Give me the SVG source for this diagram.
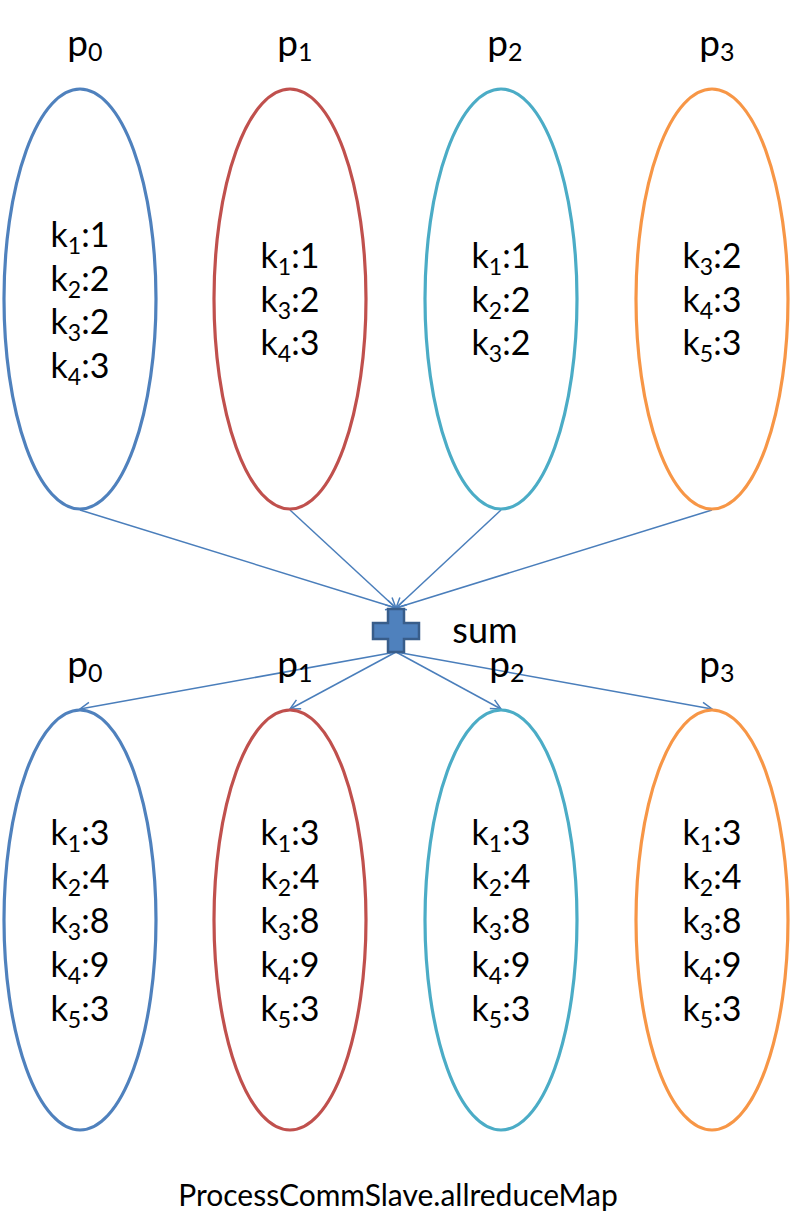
<svg xmlns="http://www.w3.org/2000/svg" width="801" height="1223" viewBox="0 0 801 1223">
<defs>
<style>
.e{fill:none;stroke-width:3.2}
.b{stroke:#4F81BD}.r{stroke:#C0504D}.c{stroke:#4BACC6}.o{stroke:#F79646}
text{font-family:Lato,"Open Sans","Liberation Sans",sans-serif;fill:#000}
.t{font-size:34px;text-anchor:middle}
.s{font-size:23px}
.lbl{font-size:37px;text-anchor:middle}
.ls{font-size:25px}
.conn line{stroke:#4A7EBB;stroke-width:1.5;marker-end:url(#ah)}
</style>
<marker id="ah" viewBox="0 0 12 12" refX="11" refY="6" markerWidth="12" markerHeight="12" markerUnits="userSpaceOnUse" orient="auto">
<path d="M1,1 L11,6 L1,11" fill="none" stroke="#4A7EBB" stroke-width="1.5"/>
</marker>
</defs>
<rect width="801" height="1223" fill="#fff"/>

<g class="conn" id="connectors">
<line x1="80" y1="510" x2="396" y2="608"/>
<line x1="290" y1="510" x2="396" y2="608"/>
<line x1="501" y1="510" x2="396" y2="608"/>
<line x1="712" y1="510" x2="396" y2="608"/>
<line x1="396" y1="652" x2="80" y2="709"/>
<line x1="396" y1="652" x2="290" y2="709"/>
<line x1="396" y1="652" x2="501" y2="709"/>
<line x1="396" y1="652" x2="712" y2="709"/>
</g>

<g id="sum">
<path d="M388,609 H404 V623 H419 V639 H404 V652 H388 V639 H373 V623 H388 Z" fill="#4F81BD" stroke="#385D8A" stroke-width="2.5"/>
<text x="485" y="643" class="lbl" style="font-size:36px">sum</text>
</g>

<g id="top-p0">
<text x="85" y="56" class="lbl">p<tspan class="ls" dy="5">0</tspan></text>
<ellipse class="e b" cx="80" cy="299" rx="76" ry="210"/>
<text class="t" x="80" y="247">k<tspan class="s" dy="7">1</tspan><tspan dy="-7">:1</tspan></text>
<text class="t" x="80" y="291">k<tspan class="s" dy="7">2</tspan><tspan dy="-7">:2</tspan></text>
<text class="t" x="80" y="334">k<tspan class="s" dy="7">3</tspan><tspan dy="-7">:2</tspan></text>
<text class="t" x="80" y="378">k<tspan class="s" dy="7">4</tspan><tspan dy="-7">:3</tspan></text>
</g>
<g id="top-p1">
<text x="295" y="56" class="lbl">p<tspan class="ls" dy="5">1</tspan></text>
<ellipse class="e r" cx="290" cy="299" rx="76" ry="210"/>
<text class="t" x="290" y="268">k<tspan class="s" dy="7">1</tspan><tspan dy="-7">:1</tspan></text>
<text class="t" x="290" y="312">k<tspan class="s" dy="7">3</tspan><tspan dy="-7">:2</tspan></text>
<text class="t" x="290" y="355">k<tspan class="s" dy="7">4</tspan><tspan dy="-7">:3</tspan></text>
</g>
<g id="top-p2">
<text x="505" y="56" class="lbl">p<tspan class="ls" dy="5">2</tspan></text>
<ellipse class="e c" cx="501" cy="299" rx="76" ry="210"/>
<text class="t" x="501" y="268">k<tspan class="s" dy="7">1</tspan><tspan dy="-7">:1</tspan></text>
<text class="t" x="501" y="312">k<tspan class="s" dy="7">2</tspan><tspan dy="-7">:2</tspan></text>
<text class="t" x="501" y="355">k<tspan class="s" dy="7">3</tspan><tspan dy="-7">:2</tspan></text>
</g>
<g id="top-p3">
<text x="717" y="56" class="lbl">p<tspan class="ls" dy="5">3</tspan></text>
<ellipse class="e o" cx="712" cy="299" rx="76" ry="210"/>
<text class="t" x="712" y="268">k<tspan class="s" dy="7">3</tspan><tspan dy="-7">:2</tspan></text>
<text class="t" x="712" y="312">k<tspan class="s" dy="7">4</tspan><tspan dy="-7">:3</tspan></text>
<text class="t" x="712" y="355">k<tspan class="s" dy="7">5</tspan><tspan dy="-7">:3</tspan></text>
</g>

<g id="bot-p0">
<text x="85" y="677" class="lbl">p<tspan class="ls" dy="5">0</tspan></text>
<ellipse class="e b" cx="80" cy="920" rx="76" ry="210"/>
<text class="t" x="80" y="845">k<tspan class="s" dy="7">1</tspan><tspan dy="-7">:3</tspan></text>
<text class="t" x="80" y="889">k<tspan class="s" dy="7">2</tspan><tspan dy="-7">:4</tspan></text>
<text class="t" x="80" y="933">k<tspan class="s" dy="7">3</tspan><tspan dy="-7">:8</tspan></text>
<text class="t" x="80" y="977">k<tspan class="s" dy="7">4</tspan><tspan dy="-7">:9</tspan></text>
<text class="t" x="80" y="1021">k<tspan class="s" dy="7">5</tspan><tspan dy="-7">:3</tspan></text>
</g>
<g id="bot-p1">
<text x="295" y="677" class="lbl">p<tspan class="ls" dy="5">1</tspan></text>
<ellipse class="e r" cx="290" cy="920" rx="76" ry="210"/>
<text class="t" x="290" y="845">k<tspan class="s" dy="7">1</tspan><tspan dy="-7">:3</tspan></text>
<text class="t" x="290" y="889">k<tspan class="s" dy="7">2</tspan><tspan dy="-7">:4</tspan></text>
<text class="t" x="290" y="933">k<tspan class="s" dy="7">3</tspan><tspan dy="-7">:8</tspan></text>
<text class="t" x="290" y="977">k<tspan class="s" dy="7">4</tspan><tspan dy="-7">:9</tspan></text>
<text class="t" x="290" y="1021">k<tspan class="s" dy="7">5</tspan><tspan dy="-7">:3</tspan></text>
</g>
<g id="bot-p2">
<text x="507" y="677" class="lbl">p<tspan class="ls" dy="5">2</tspan></text>
<ellipse class="e c" cx="501" cy="920" rx="76" ry="210"/>
<text class="t" x="501" y="845">k<tspan class="s" dy="7">1</tspan><tspan dy="-7">:3</tspan></text>
<text class="t" x="501" y="889">k<tspan class="s" dy="7">2</tspan><tspan dy="-7">:4</tspan></text>
<text class="t" x="501" y="933">k<tspan class="s" dy="7">3</tspan><tspan dy="-7">:8</tspan></text>
<text class="t" x="501" y="977">k<tspan class="s" dy="7">4</tspan><tspan dy="-7">:9</tspan></text>
<text class="t" x="501" y="1021">k<tspan class="s" dy="7">5</tspan><tspan dy="-7">:3</tspan></text>
</g>
<g id="bot-p3">
<text x="717" y="677" class="lbl">p<tspan class="ls" dy="5">3</tspan></text>
<ellipse class="e o" cx="712" cy="920" rx="76" ry="210"/>
<text class="t" x="712" y="845">k<tspan class="s" dy="7">1</tspan><tspan dy="-7">:3</tspan></text>
<text class="t" x="712" y="889">k<tspan class="s" dy="7">2</tspan><tspan dy="-7">:4</tspan></text>
<text class="t" x="712" y="933">k<tspan class="s" dy="7">3</tspan><tspan dy="-7">:8</tspan></text>
<text class="t" x="712" y="977">k<tspan class="s" dy="7">4</tspan><tspan dy="-7">:9</tspan></text>
<text class="t" x="712" y="1021">k<tspan class="s" dy="7">5</tspan><tspan dy="-7">:3</tspan></text>
</g>

<g id="caption">
<text x="398" y="1206" style="font-size:30px;text-anchor:middle">ProcessCommSlave.allreduceMap</text>
</g>
</svg>
